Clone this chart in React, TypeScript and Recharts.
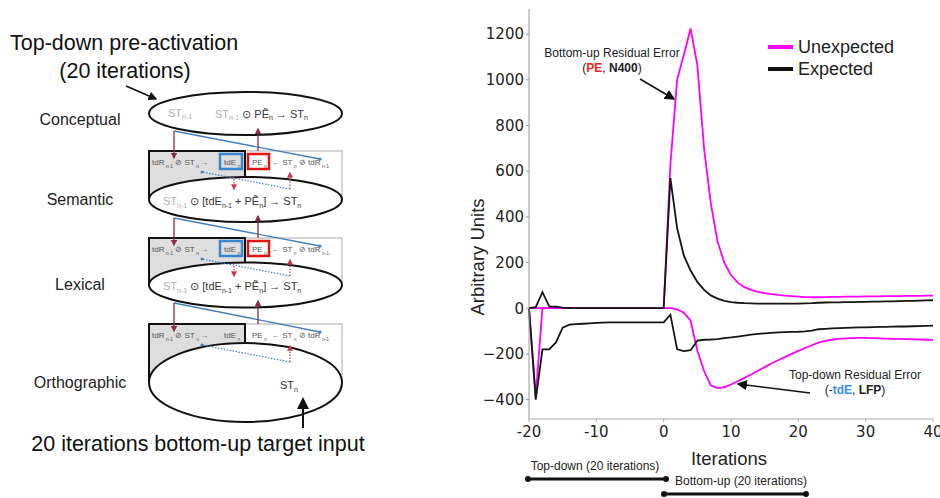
import React from 'react'
import { LineChart, Line, XAxis, YAxis } from 'recharts'

// iterations -20 .. 40
const iterations = [
  -20, -19, -18, -17, -16, -15, -14, -13, -12, -11, -10, -9, -8, -7, -6, -5, -4, -3, -2, -1, 0,
  1, 2, 3, 4, 5, 6, 7, 8, 9, 10, 11, 12, 13, 14, 15, 16, 17, 18, 19, 20,
  21, 22, 23, 24, 25, 26, 27, 28, 29, 30, 31, 32, 33, 34, 35, 36, 37, 38, 39, 40,
]

// bottom-up residual error (PE)
const peUnexpected = [
  0, 0, 0, 0, 0, 0, 0, 0, 0, 0, 0, 0, 0, 0, 0, 0, 0, 0, 0, 0, 0,
  630, 1000, 1110, 1225, 1065, 700, 460, 292, 200, 145, 112, 92, 80, 72, 66, 62, 58, 55, 53, 51,
  49, 48, 48, 49, 50, 50, 51, 51, 51, 52, 52, 52, 53, 53, 53, 54, 54, 54, 55, 55,
]
const peExpected = [
  0, 5, 70, 8, 7, 3, 1, 0, 0, 0, 0, 0, 0, 0, 0, 0, 0, 0, 0, 0, 0,
  570, 350, 230, 165, 115, 80, 56, 42, 32, 27, 24, 22, 21, 20, 20, 20, 20, 20, 20, 20,
  21, 22, 24, 25, 26, 26, 27, 27, 28, 28, 29, 29, 30, 30, 31, 32, 32, 33, 34, 35,
]

// top-down residual error (-tdE)
const tdeUnexpected = [
  0, -385, 0, 0, 0, 0, 0, 0, 0, 0, 0, 0, 0, 0, 0, 0, 0, 0, 0, 0, 0,
  0, -5, -20, -55, -185, -275, -338, -350, -346, -334, -320, -305, -290, -274, -258, -242, -228, -214, -200, -187,
  -174, -162, -151, -143, -138, -134, -132, -131, -130, -130, -131, -132, -133, -134, -134, -135, -136, -137, -138, -139,
]
const tdeExpected = [
  0, -400, -180, -180, -150, -85, -72, -70, -68, -66, -64, -63, -62, -62, -62, -62, -62, -62, -62, -62, -62,
  -28, -180, -188, -184, -142, -138, -137, -135, -131, -128, -124, -120, -116, -112, -110, -108, -106, -105, -104, -103,
  -101, -98, -92, -90, -88, -87, -86, -85, -84, -84, -83, -82, -82, -81, -80, -80, -79, -78, -77, -76,
]

const xTicks = [-20, -10, 0, 10, 20, 30, 40]
const yTicks = [-400, -200, 0, 200, 400, 600, 800, 1000, 1200]

const levels = ['Conceptual', 'Semantic', 'Lexical', 'Orthographic']

const rows = iterations.map((it, i) => ({
  it,
  peU: peUnexpected[i],
  peE: peExpected[i],
  tdU: tdeUnexpected[i],
  tdE: tdeExpected[i],
}))

const SANS = 'Liberation Sans, Arial, sans-serif'
const MAGENTA = '#ff00ff'
const DARKRED = '#8e2a45'
const BLUE = '#3f7fc0'
const LIGHT = '#b0b0b0'
const MID = '#555'

// one stacked layer of the model diagram (box with error units + state ellipse)
function Layer({ top, cy, ry, highlight, label }: any) {
  const ty = top + 14
  return (
    <g>
      <rect x={245} y={top} width={97} height={cy - top} fill="#fff" stroke="#aaa" strokeWidth={1} />
      <rect x={149} y={top} width={96} height={cy - top} fill="#dedede" stroke="#111" strokeWidth={2} />
      <text x={152} y={ty} fontSize={8} fill={MID} fontFamily={SANS}>
        tdR<tspan fontSize={5} dy={2.5}> n-1</tspan>
        <tspan dy={-2.5}> ⊘ ST</tspan>
        <tspan fontSize={5} dy={2.5}> n </tspan>
        <tspan dy={-2.5}>→</tspan>
      </text>
      <text x={224} y={ty} fontSize={8} fill={MID} fontFamily={SANS}>
        tdE<tspan fontSize={5} dy={2.5}> n</tspan>
      </text>
      <text x={252} y={ty} fontSize={8} fill={MID} fontFamily={SANS}>
        PE<tspan fontSize={5} dy={2.5}> n</tspan>
      </text>
      <text x={272} y={ty} fontSize={8} fill={MID} fontFamily={SANS}>
        ← ST<tspan fontSize={5} dy={2.5}> n</tspan>
        <tspan dy={-2.5}> ⊘ tdR</tspan>
        <tspan fontSize={5} dy={2.5}> n-1</tspan>
      </text>
      {highlight && (
        <g>
          <rect x={220} y={top + 3} width={22} height={15} fill="none" stroke="#3b86cf" strokeWidth={2.5} />
          <rect x={248} y={top + 3} width={21} height={15} fill="none" stroke="#e3140f" strokeWidth={2.5} />
        </g>
      )}
      <ellipse cx={245.5} cy={cy} rx={96.5} ry={ry} fill="#fff" stroke="#111" strokeWidth={2} />
      <text x={80} y={cy + 5} textAnchor="middle" fontSize={16} fill="#222" fontFamily={SANS}>{label}</text>
    </g>
  )
}

function Diagram() {
  const layers = [
    { top: 151, cy: 199.5, ry: 22.5, highlight: true },
    { top: 238, cy: 285, ry: 22.5, highlight: true },
    { top: 324, cy: 382.5, ry: 39.5, highlight: false },
  ]
  const prevBottom = [135, 222, 307]
  return (
    <svg width={460} height={498} style={{ position: 'absolute', left: 0, top: 0 }}>
      <defs>
        <marker id="dh" markerWidth="6" markerHeight="6" refX="5" refY="3" orient="auto">
          <path d="M0,0 L6,3 L0,6 z" fill="#111" />
        </marker>
        <marker id="rh" markerWidth="5" markerHeight="5" refX="4" refY="2.5" orient="auto">
          <path d="M0,0 L5,2.5 L0,5 z" fill={DARKRED} />
        </marker>
        <marker id="rdh" markerWidth="5" markerHeight="5" refX="4" refY="2.5" orient="auto">
          <path d="M0,0 L5,2.5 L0,5 z" fill="#c8364f" />
        </marker>
      </defs>

      <text x={10} y={50} fontSize={21.5} fill="#111" fontFamily={SANS}>Top-down pre-activation</text>
      <text x={125} y={78} textAnchor="middle" fontSize={21.5} fill="#111" fontFamily={SANS}>(20 iterations)</text>
      <line x1={126} y1={86} x2={156} y2={99} stroke="#111" strokeWidth={1.5} markerEnd="url(#dh)" />

      <ellipse cx={245.5} cy={113.5} rx={96.5} ry={21.5} fill="#fff" stroke="#111" strokeWidth={2} />
      <text x={80} y={125} textAnchor="middle" fontSize={16} fill="#222" fontFamily={SANS}>{levels[0]}</text>
      <text x={168} y={117} fontSize={11} fill={LIGHT} fontFamily={SANS}>
        ST<tspan fontSize={7} dy={2}>n-1</tspan>
      </text>
      <text x={215} y={118} fontSize={11} fill="#333" fontFamily={SANS}>
        <tspan fill={LIGHT}>ST</tspan>
        <tspan fontSize={7} dy={2} fill={LIGHT}>n-1</tspan>
        <tspan dy={-2}> ⊙ PẼ</tspan>
        <tspan fontSize={7} dy={2}>n</tspan>
        <tspan dy={-2}> → ST</tspan>
        <tspan fontSize={7} dy={2}>n</tspan>
      </text>

      {layers.map((l, i) => (
        <Layer key={i} {...l} label={levels[i + 1]} />
      ))}

      {/* state text inside semantic / lexical ellipses */}
      {layers.slice(0, 2).map((l, i) => (
        <text key={i} x={163} y={l.cy + 5} fontSize={11} fill="#333" fontFamily={SANS}>
          <tspan fill={LIGHT}>ST</tspan>
          <tspan fontSize={7} dy={3} fill={LIGHT}>n-1</tspan>
          <tspan dy={-3}>  ⊙  [tdE</tspan>
          <tspan fontSize={7} dy={3}>n-1</tspan>
          <tspan dy={-3}> + PẼ</tspan>
          <tspan fontSize={7} dy={3}>n</tspan>
          <tspan dy={-3}>] → ST</tspan>
          <tspan fontSize={7} dy={3}>n</tspan>
        </text>
      ))}
      <text x={280} y={389} fontSize={11} fill="#333" fontFamily={SANS}>
        ST<tspan fontSize={7} dy={3}>n</tspan>
      </text>

      {/* connections between layers */}
      {layers.map((l, i) => (
        <g key={i}>
          <line x1={174} y1={prevBottom[i] - 4} x2={320} y2={l.top + 8} stroke={BLUE} strokeWidth={1.3} />
          <circle cx={320} cy={l.top + 8} r={1.6} fill={BLUE} />
          <line x1={174} y1={prevBottom[i] - 4} x2={174} y2={l.top + 7} stroke={DARKRED} strokeWidth={1.3} markerEnd="url(#rh)" />
          <line x1={258} y1={l.top} x2={258} y2={prevBottom[i] - 6} stroke={DARKRED} strokeWidth={1.3} markerEnd="url(#rh)" />
          <line x1={290} y1={l.top + 38} x2={202} y2={l.top + 21} stroke={BLUE} strokeWidth={1.2} strokeDasharray="1.5 1.5" />
          <circle cx={202} cy={l.top + 21} r={1.5} fill={BLUE} />
          <line x1={290} y1={l.top + 38} x2={290} y2={l.top + 22} stroke="#c8364f" strokeWidth={1.2} strokeDasharray="1.5 1.5" markerEnd="url(#rdh)" />
          {l.highlight && (
            <line x1={234} y1={l.top + 25} x2={234} y2={l.top + 38} stroke="#c8364f" strokeWidth={1.2} strokeDasharray="1.5 1.5" markerEnd="url(#rdh)" />
          )}
        </g>
      ))}

      <line x1={303} y1={428} x2={303} y2={399} stroke="#111" strokeWidth={2} markerEnd="url(#dh)" />
      <text x={198} y={451} textAnchor="middle" fontSize={21.5} fill="#111" fontFamily={SANS}>20 iterations bottom-up target input</text>
    </svg>
  )
}

function Annotations() {
  return (
    <svg width={940} height={498} style={{ position: 'absolute', left: 0, top: 0, pointerEvents: 'none' }}>
      <defs>
        <marker id="ah" markerWidth="7" markerHeight="7" refX="6" refY="3.5" orient="auto">
          <path d="M0,0 L7,3.5 L0,7 z" fill="#111" />
        </marker>
      </defs>
      <text x={478} y={257} transform="rotate(-90 478 257)" dy={6} textAnchor="middle" fontSize={18.5} fill="#222" fontFamily={SANS}>Arbitrary Units</text>
      <text x={729} y={465} textAnchor="middle" fontSize={18.5} fill="#222" fontFamily={SANS}>Iterations</text>

      <line x1={768} y1={47} x2={793} y2={47} stroke={MAGENTA} strokeWidth={4} />
      <text x={798} y={53} fontSize={18} fill="#222" fontFamily={SANS}>Unexpected</text>
      <line x1={768} y1={69} x2={793} y2={69} stroke="#111" strokeWidth={4} />
      <text x={798} y={75} fontSize={18} fill="#222" fontFamily={SANS}>Expected</text>

      <text x={612} y={57} textAnchor="middle" fontSize={12} fill="#222" fontFamily={SANS}>Bottom-up Residual Error</text>
      <text x={612} y={72} textAnchor="middle" fontSize={12} fill="#222" fontFamily={SANS}>
        (<tspan fill="#ff2020" fontWeight="bold">PE</tspan>, <tspan fontWeight="bold">N400</tspan>)
      </text>
      <line x1={640} y1={79} x2={674} y2={99} stroke="#111" strokeWidth={1.5} markerEnd="url(#ah)" />

      <text x={855} y={379} textAnchor="middle" fontSize={12} fill="#222" fontFamily={SANS}>Top-down Residual Error</text>
      <text x={855} y={394} textAnchor="middle" fontSize={12} fill="#222" fontFamily={SANS}>
        (-<tspan fill="#3b8fe0" fontWeight="bold">tdE</tspan>, <tspan fontWeight="bold">LFP</tspan>)
      </text>
      <line x1={810} y1={393} x2={738} y2={384} stroke="#111" strokeWidth={1.5} markerEnd="url(#ah)" />

      <text x={595} y={470} textAnchor="middle" fontSize={12} fill="#222" fontFamily={SANS}>Top-down (20 iterations)</text>
      <line x1={528} y1={479} x2={666} y2={479} stroke="#111" strokeWidth={3} />
      <circle cx={528} cy={479} r={3} fill="#111" />
      <circle cx={666} cy={479} r={3} fill="#111" />
      <text x={741} y={485} textAnchor="middle" fontSize={12} fill="#222" fontFamily={SANS}>Bottom-up (20 iterations)</text>
      <line x1={664} y1={494} x2={806} y2={494} stroke="#111" strokeWidth={3} />
      <circle cx={664} cy={494} r={3} fill="#111" />
      <circle cx={806} cy={494} r={3} fill="#111" />
    </svg>
  )
}

const tickStyle = { fontSize: 15, fill: '#222', fontFamily: 'DejaVu Sans' }

export default function App() {
  return (
    <div style={{ position: 'absolute', left: 0, top: 0, width: 940, height: 498, background: '#fff', overflow: 'hidden' }}>
      <Diagram />
      <div style={{ position: 'absolute', left: 460, top: 0 }}>
        <LineChart width={480} height={498} data={rows} margin={{ top: 9, right: 7, bottom: 0, left: 0 }}>
          <XAxis
            dataKey="it"
            type="number"
            domain={[-20, 40]}
            ticks={xTicks}
            interval={0}
            height={79}
            stroke="#aaa"
            tickSize={3}
            tickMargin={4}
            tick={tickStyle}
          />
          <XAxis xAxisId="top" orientation="top" dataKey="it" type="number" domain={[-20, 40]} height={0} tick={false} tickLine={false} stroke="#ccc" />
          <YAxis
            type="number"
            domain={[-485, 1310]}
            ticks={yTicks}
            interval={0}
            width={69}
            stroke="#999"
            tickSize={3}
            tickMargin={2}
            tick={tickStyle}
            tickFormatter={(v: number) => String(v).replace('-', '\u2212')}
          />
          <YAxis yAxisId="right" orientation="right" type="number" domain={[-485, 1310]} width={0} tick={false} tickLine={false} stroke="#ccc" />
          <Line type="linear" dataKey="peU" stroke={MAGENTA} strokeWidth={1.8} dot={false} isAnimationActive={false} />
          <Line type="linear" dataKey="tdU" stroke={MAGENTA} strokeWidth={1.8} dot={false} isAnimationActive={false} />
          <Line type="linear" dataKey="peE" stroke="#151515" strokeWidth={1.8} dot={false} isAnimationActive={false} />
          <Line type="linear" dataKey="tdE" stroke="#151515" strokeWidth={1.8} dot={false} isAnimationActive={false} />
        </LineChart>
      </div>
      <Annotations />
    </div>
  )
}
